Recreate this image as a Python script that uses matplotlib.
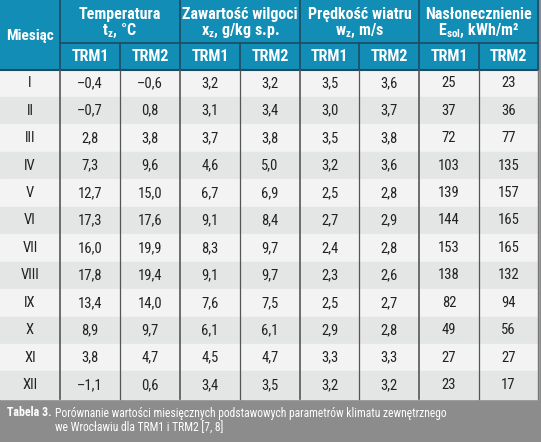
import matplotlib
matplotlib.use('Agg')
import matplotlib.pyplot as plt
from matplotlib.patches import Rectangle

plt.rcParams['font.family'] = ['Roboto Condensed', 'DejaVu Sans']
plt.rcParams['mathtext.fontset'] = 'custom'
plt.rcParams['mathtext.rm'] = 'Roboto Condensed:bold'
plt.rcParams['mathtext.bf'] = 'Roboto Condensed:bold'

months = ['I', 'II', 'III', 'IV', 'V', 'VI', 'VII', 'VIII', 'IX', 'X', 'XI', 'XII']
temp_trm1 = ['–0,4', '–0,7', '2,8', '7,3', '12,7', '17,3', '16,0', '17,8', '13,4', '8,9', '3,8', '–1,1']
temp_trm2 = ['–0,6', '0,8', '3,8', '9,6', '15,0', '17,6', '19,9', '19,4', '14,0', '9,7', '4,7', '0,6']
hum_trm1 = ['3,2', '3,1', '3,7', '4,6', '6,7', '9,1', '8,3', '9,1', '7,6', '6,1', '4,5', '3,4']
hum_trm2 = ['3,2', '3,4', '3,8', '5,0', '6,9', '8,4', '9,7', '9,7', '7,5', '6,1', '4,7', '3,5']
wind_trm1 = ['3,5', '3,0', '3,5', '3,2', '2,5', '2,7', '2,4', '2,3', '2,5', '2,9', '3,3', '3,2']
wind_trm2 = ['3,6', '3,7', '3,8', '3,6', '2,8', '2,9', '2,8', '2,6', '2,7', '2,8', '3,3', '3,2']
sol_trm1 = ['25', '37', '72', '103', '139', '144', '153', '138', '82', '49', '27', '23']
sol_trm2 = ['23', '36', '77', '135', '157', '165', '165', '132', '94', '56', '27', '17']

groups = ['Temperatura', 'Zawartość wilgoci', 'Prędkość wiatru', 'Nasłonecznienie']
units = [r'$\mathrm{t_{z}}$, °C', r'$\mathrm{x_{z}}$, g/kg s.p.',
         r'$\mathrm{w_{z}}$, m/s', r'$\mathrm{E_{sol}}$, kWh/m²']
sub_labels = ['TRM1', 'TRM2']
caption_bold = 'Tabela 3.'
caption_lines = ['Porównanie wartości miesięcznych podstawowych parametrów klimatu zewnętrznego',
                 'we Wrocławiu dla TRM1 i TRM2 [7, 8]']

columns = [temp_trm1, temp_trm2, hum_trm1, hum_trm2,
           wind_trm1, wind_trm2, sol_trm1, sol_trm2]

W, H = 541, 442
HEADER = '#128db5'
HLINE = '#1e4a63'
ROW_A = '#f3f3f3'
ROW_B = '#e4e5e5'
CAPTION = '#8c8c8c'

col_x = [0, 60, 120, 180, 240, 300, 359, 419, 479, 538]
head1_bottom = 42.5
head2_bottom = 69.5
row_h = 27.45
table_bottom = head2_bottom + row_h * len(months)

fig = plt.figure(figsize=(W / 100, H / 100), dpi=100)
ax = fig.add_axes([0, 0, 1, 1])
ax.set_xlim(0, W)
ax.set_ylim(H, 0)
ax.axis('off')

# background frame / caption
ax.add_patch(Rectangle((0, 0), W, H, color=CAPTION, zorder=0))

# header
ax.add_patch(Rectangle((0, 0), col_x[-1], head2_bottom, color=HEADER, zorder=1))

# data rows
for i, month in enumerate(months):
    y0 = head2_bottom + i * row_h
    ax.add_patch(Rectangle((0, y0), col_x[-1], row_h,
                           color=ROW_A if i % 2 == 0 else ROW_B, zorder=1))
    yc = y0 + row_h / 2
    ax.text(col_x[0] + 30, yc, month, ha='center', va='center',
            fontsize=10.5, color='#222222', zorder=3)
    for j, col in enumerate(columns):
        xc = (col_x[j + 1] + col_x[j + 2]) / 2
        ax.text(xc, yc, col[i], ha='center', va='center',
                fontsize=10.5, color='#222222', zorder=3)

# header text
ax.text(30, head2_bottom / 2 + 1, 'Miesiąc', ha='center', va='center',
        fontsize=11, fontweight='bold', color='white', zorder=3)
for g, (name, unit) in enumerate(zip(groups, units)):
    xa, xb = col_x[1 + 2 * g], col_x[3 + 2 * g]
    xc = (xa + xb) / 2
    ax.text(xc, 14.5, name, ha='center', va='center', fontsize=11.5,
            fontweight='bold', color='white', zorder=3)
    ax.text(xc, 31, unit, ha='center', va='center', fontsize=11.5,
            fontweight='bold', color='white', zorder=3)
    for k, lab in enumerate(sub_labels):
        xs = (col_x[1 + 2 * g + k] + col_x[2 + 2 * g + k]) / 2
        ax.text(xs, (head1_bottom + head2_bottom) / 2 + 0.5, lab, ha='center',
                va='center', fontsize=11.5, fontweight='bold', color='white',
                zorder=3)

# header lines
ax.plot([col_x[1], col_x[-1]], [head1_bottom, head1_bottom], color=HLINE, lw=1.2, zorder=2)
ax.plot([0, col_x[-1]], [head2_bottom, head2_bottom], color=HLINE, lw=1.5, zorder=2)
for j, x in enumerate(col_x[1:-1], start=1):
    top = 0 if j % 2 == 1 else head1_bottom
    ax.plot([x, x], [top, head2_bottom], color=HLINE, lw=1.2, zorder=2)
    ax.plot([x, x], [head2_bottom, table_bottom], color='#555555',
            lw=1.2 if j % 2 == 1 else 0.9, zorder=2)
ax.plot([col_x[-1], col_x[-1]], [0, head2_bottom], color=HLINE, lw=1.2, zorder=2)
ax.plot([col_x[-1], col_x[-1]], [head2_bottom, table_bottom], color='#777777', lw=1.0, zorder=2)

# caption
t = ax.text(7, 413, caption_bold, ha='left', va='center', fontsize=8.6,
            fontweight='bold', color='white', zorder=3)
fig.canvas.draw()
bb = t.get_window_extent().transformed(ax.transData.inverted())
x_cap = bb.x1 + 3
ax.text(x_cap, 413, caption_lines[0], ha='left', va='center', fontsize=8.4,
        color='white', zorder=3)
ax.text(x_cap, 428.5, caption_lines[1], ha='left', va='center', fontsize=8.4,
        color='white', zorder=3)

fig.savefig('out.png', dpi=100)
